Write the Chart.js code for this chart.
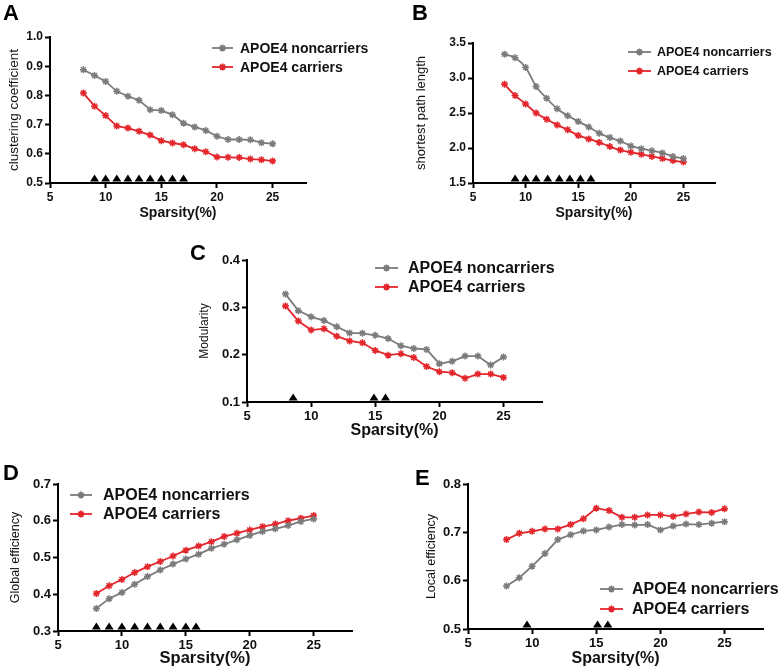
<!DOCTYPE html>
<html>
<head>
<meta charset="utf-8">
<script src="https://cdn.jsdelivr.net/npm/chart.js@4"></script>
<style>
  body { margin: 0; background: #fff; }
  #page { position: relative; width: 780px; height: 668px; overflow: hidden; font-family: "Liberation Sans", Arial, sans-serif; }
  .panel { position: absolute; }
  .tag { position: absolute; font-weight: bold; font-size: 22px; line-height: 1; color: #000; }
</style>
</head>
<body>
<div id="page">
  <div class="panel" style="left:0px;top:0px;width:390px;height:222px"><canvas id="chartA"></canvas></div>
  <div class="panel" style="left:390px;top:0px;width:390px;height:222px"><canvas id="chartB"></canvas></div>
  <div class="panel" style="left:180px;top:235px;width:400px;height:205px"><canvas id="chartC"></canvas></div>
  <div class="panel" style="left:0px;top:450px;width:390px;height:218px"><canvas id="chartD"></canvas></div>
  <div class="panel" style="left:390px;top:450px;width:390px;height:218px"><canvas id="chartE"></canvas></div>
  <div class="tag" style="left:3px;top:2px">A</div>
  <div class="tag" style="left:412px;top:2px">B</div>
  <div class="tag" style="left:190px;top:242px">C</div>
  <div class="tag" style="left:3px;top:462px">D</div>
  <div class="tag" style="left:415px;top:467px">E</div>
</div>
<script>
// ---- data ----
const sparsity = [8, 9, 10, 11, 12, 13, 14, 15, 16, 17, 18, 19, 20, 21, 22, 23, 24, 25];
const xTicks = [5, 10, 15, 20, 25];
const seriesNames = ["APOE4 noncarriers", "APOE4 carriers"];

// A: clustering coefficient
const ccNon = [0.888, 0.868, 0.848, 0.814, 0.797, 0.783, 0.751, 0.748, 0.734, 0.705, 0.692, 0.680, 0.660, 0.649, 0.649, 0.648, 0.638, 0.634];
const ccCar = [0.808, 0.763, 0.731, 0.695, 0.688, 0.677, 0.664, 0.645, 0.637, 0.631, 0.617, 0.607, 0.589, 0.588, 0.587, 0.582, 0.580, 0.575];
const ccTicks = [0.5, 0.6, 0.7, 0.8, 0.9, 1.0];
const ccSig = [9, 10, 11, 12, 13, 14, 15, 16, 17];

// B: shortest path length
const splNon = [3.34, 3.29, 3.15, 2.88, 2.71, 2.56, 2.46, 2.38, 2.30, 2.21, 2.15, 2.10, 2.03, 1.99, 1.96, 1.93, 1.88, 1.85];
const splCar = [2.91, 2.75, 2.63, 2.50, 2.41, 2.33, 2.26, 2.18, 2.13, 2.08, 2.02, 1.97, 1.94, 1.91, 1.88, 1.85, 1.82, 1.80];
const splTicks = [1.5, 2.0, 2.5, 3.0, 3.5];
const splSig = [9, 10, 11, 12.1, 13.2, 14.2, 15.2, 16.2];

// C: modularity
const modNon = [0.328, 0.293, 0.280, 0.272, 0.259, 0.246, 0.245, 0.241, 0.234, 0.219, 0.213, 0.211, 0.181, 0.186, 0.197, 0.197, 0.178, 0.195];
const modCar = [0.303, 0.271, 0.252, 0.255, 0.239, 0.229, 0.225, 0.209, 0.199, 0.202, 0.194, 0.175, 0.164, 0.162, 0.150, 0.159, 0.159, 0.152];
const modTicks = [0.1, 0.2, 0.3, 0.4];
const modSig = [8.6, 14.9, 15.8];

// D: global efficiency
const geNon = [0.361, 0.388, 0.405, 0.427, 0.448, 0.466, 0.482, 0.496, 0.509, 0.525, 0.536, 0.548, 0.560, 0.571, 0.578, 0.587, 0.598, 0.605];
const geCar = [0.402, 0.423, 0.440, 0.459, 0.475, 0.489, 0.504, 0.520, 0.531, 0.543, 0.557, 0.566, 0.575, 0.584, 0.591, 0.600, 0.607, 0.614];
const geTicks = [0.3, 0.4, 0.5, 0.6, 0.7];
const geSig = [8, 9, 10, 11, 12, 13, 14, 15, 15.8];

// E: local efficiency
const leNon = [0.589, 0.606, 0.630, 0.656, 0.685, 0.695, 0.703, 0.705, 0.711, 0.716, 0.715, 0.716, 0.705, 0.713, 0.717, 0.716, 0.719, 0.722];
const leCar = [0.685, 0.698, 0.702, 0.707, 0.707, 0.716, 0.728, 0.750, 0.745, 0.731, 0.731, 0.736, 0.736, 0.733, 0.738, 0.742, 0.741, 0.749];
const leTicks = [0.5, 0.6, 0.7, 0.8];
const leSig = [9.6, 15.1, 15.9];

const GRAY = "#7b7b7b";
const RED = "#e3262c";
const FONT = "'Liberation Sans', Arial, sans-serif";

// legend drawn inside the canvas at a chosen spot
const sideLegend = {
  id: "sideLegend",
  afterDraw(chart, args, opts) {
    const ctx = chart.ctx;
    chart.data.datasets.forEach((ds, i) => {
      const y = opts.y + i * opts.gap;
      ctx.save();
      ctx.strokeStyle = ds.borderColor;
      ctx.fillStyle = ds.borderColor;
      ctx.lineWidth = 1.8;
      ctx.beginPath();
      ctx.moveTo(opts.x, y);
      ctx.lineTo(opts.x + opts.len, y);
      ctx.stroke();
      Chart.helpers.drawPoint(ctx, { pointStyle: "star", radius: 3.5, borderWidth: 1.5, rotation: 0 }, opts.x + opts.len / 2, y);
      ctx.fillStyle = "#111";
      ctx.font = "bold " + opts.size + "px " + FONT;
      ctx.textBaseline = "middle";
      ctx.fillText(ds.label, opts.x + opts.len + opts.pad, y + 1);
      ctx.restore();
    });
  }
};

// black triangles marking significant sparsities
const sigMarks = {
  id: "sigMarks",
  afterDatasetsDraw(chart, args, opts) {
    const ctx = chart.ctx;
    const xs = chart.scales.x;
    const base = chart.chartArea.bottom - 1.5;
    ctx.save();
    ctx.fillStyle = "#000";
    opts.values.forEach(v => {
      const px = xs.getPixelForValue(v);
      ctx.beginPath();
      ctx.moveTo(px - 4.5, base);
      ctx.lineTo(px + 4.5, base);
      ctx.lineTo(px, base - 7);
      ctx.closePath();
      ctx.fill();
    });
    ctx.restore();
  }
};

function makeChart(id, cfg) {
  const ds = (label, vals, color) => ({
    label,
    data: sparsity.map((x, i) => ({ x, y: vals[i] })),
    borderColor: color,
    backgroundColor: color,
    borderWidth: 1.8,
    pointStyle: "star",
    pointRadius: 3.5,
    pointBorderWidth: 1.5,
    tension: cfg.tension || 0
  });

  return new Chart(document.getElementById(id), {
    type: "line",
    data: {
      datasets: [ds(seriesNames[0], cfg.non, GRAY), ds(seriesNames[1], cfg.car, RED)]
    },
    plugins: [sideLegend, sigMarks],
    options: {
      responsive: true,
      maintainAspectRatio: false,
      animation: false,
      layout: { padding: cfg.padding },
      plugins: {
        legend: { display: false },
        tooltip: { enabled: false },
        sideLegend: cfg.legend,
        sigMarks: { values: cfg.sig }
      },
      scales: {
        x: {
          type: "linear",
          min: 5,
          max: 28,
          afterBuildTicks: s => { s.ticks = xTicks.map(v => ({ value: v })); },
          afterFit: s => { s.height = cfg.xHeight; },
          border: { color: "#000", width: 2 },
          grid: { drawOnChartArea: false, color: "#000", tickLength: 5, tickWidth: 2 },
          ticks: { color: "#111", font: { family: FONT, size: cfg.tickSize, weight: "bold" }, padding: 2, maxRotation: 0 },
          title: { display: true, text: "Sparsity(%)", color: "#111", font: { family: FONT, size: cfg.xTitleSize, weight: "bold" }, padding: { top: 1, bottom: 0 } }
        },
        y: {
          min: cfg.yTicks[0],
          max: cfg.yTicks[cfg.yTicks.length - 1],
          afterBuildTicks: s => { s.ticks = cfg.yTicks.map(v => ({ value: v })); },
          afterFit: s => { s.width = cfg.yWidth; },
          border: { color: "#000", width: 2 },
          grid: { drawOnChartArea: false, color: "#000", tickLength: 5, tickWidth: 2 },
          ticks: { color: "#111", font: { family: FONT, size: cfg.tickSize, weight: "bold" }, padding: 2, callback: v => v.toFixed(1) },
          title: { display: true, text: cfg.yTitle, color: "#111", font: { family: FONT, size: cfg.yTitleSize }, padding: { top: 0, bottom: 0 } }
        }
      }
    }
  });
}

makeChart("chartA", {
  non: ccNon, car: ccCar, yTicks: ccTicks, sig: ccSig,
  yTitle: "clustering coefficient",
  padding: { left: 6, top: 37, right: 84, bottom: 0 },
  yWidth: 44, xHeight: 39, tickSize: 12, xTitleSize: 14, yTitleSize: 13.5,
  legend: { x: 212, y: 48, gap: 19, len: 21, pad: 7, size: 14 }
});

makeChart("chartB", {
  non: splNon, car: splCar, yTicks: splTicks, sig: splSig, tension: 0.3,
  yTitle: "shortest path length",
  padding: { left: 24, top: 43, right: 65, bottom: 0 },
  yWidth: 59, xHeight: 39, tickSize: 12, xTitleSize: 14, yTitleSize: 13,
  legend: { x: 238, y: 52, gap: 19, len: 23, pad: 6, size: 12.5 }
});

makeChart("chartC", {
  non: modNon, car: modCar, yTicks: modTicks, sig: modSig,
  yTitle: "Modularity",
  padding: { left: 17, top: 25, right: 38, bottom: 0 },
  yWidth: 50, xHeight: 38, tickSize: 13, xTitleSize: 16, yTitleSize: 12,
  legend: { x: 195, y: 33, gap: 19, len: 23, pad: 10, size: 16 }
});

makeChart("chartD", {
  non: geNon, car: geCar, yTicks: geTicks, sig: geSig,
  yTitle: "Global efficiency",
  padding: { left: 8, top: 34, right: 38, bottom: 0 },
  yWidth: 50, xHeight: 37, tickSize: 13, xTitleSize: 16.5, yTitleSize: 12.5,
  legend: { x: 70, y: 45, gap: 19, len: 22, pad: 11, size: 16 }
});

makeChart("chartE", {
  non: leNon, car: leCar, yTicks: leTicks, sig: leSig,
  yTitle: "Local efficiency",
  padding: { left: 34, top: 34, right: 17, bottom: 0 },
  yWidth: 44, xHeight: 39, tickSize: 13, xTitleSize: 16, yTitleSize: 12.5,
  legend: { x: 210, y: 139, gap: 20, len: 23, pad: 9, size: 16 }
});
</script>
</body>
</html>
